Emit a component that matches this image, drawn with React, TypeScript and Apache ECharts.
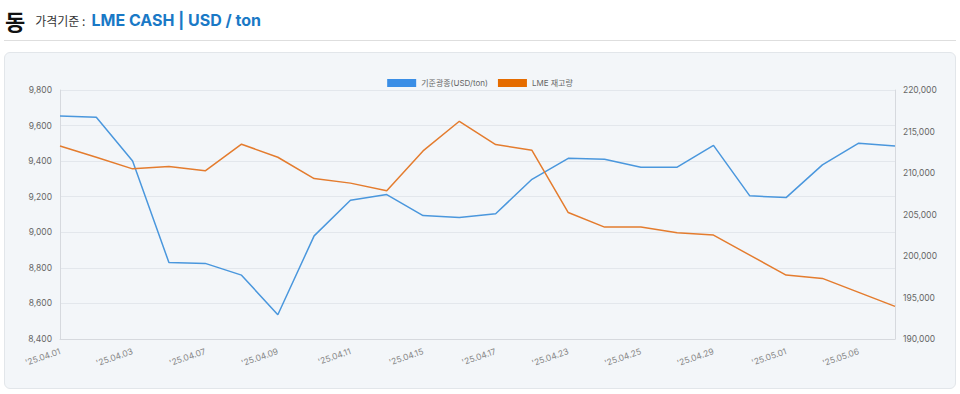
import React, { useEffect, useRef } from "react";
import * as echarts from "echarts";

const categories = [
  "'25.04.01", "'25.04.02", "'25.04.03", "'25.04.04", "'25.04.07", "'25.04.08",
  "'25.04.09", "'25.04.10", "'25.04.11", "'25.04.14", "'25.04.15", "'25.04.16",
  "'25.04.17", "'25.04.22", "'25.04.23", "'25.04.24", "'25.04.25", "'25.04.28",
  "'25.04.29", "'25.04.30", "'25.05.01", "'25.05.02", "'25.05.06", "'25.05.07",
];

const priceSeries = [
  9654, 9647, 9401, 8830, 8825, 8759, 8536, 8980, 9180, 9212, 9094, 9083,
  9104, 9298, 9416, 9411, 9366, 9366, 9489, 9205, 9195, 9379, 9501, 9485,
];

const stockSeries = [
  213260, 211900, 210500, 210780, 210260, 213470, 211900, 209330, 208780, 207850, 212660, 216230,
  213420, 212740, 205240, 203480, 203480, 202800, 202520, 200110, 197700, 197300, 195620, 193930,
];

const seriesNames = ["기준광종(USD/ton)", "LME 재고량"];

const FONT = "Inter, 'Noto Sans CJK KR', sans-serif";

function Chart() {
  const ref = useRef<HTMLDivElement>(null);
  useEffect(() => {
    if (!ref.current) return;
    const chart = echarts.init(ref.current, null, { renderer: "svg" });
    chart.setOption({
      animation: false,
      textStyle: { fontFamily: FONT },
      legend: {
        top: 21,
        left: "center",
        itemWidth: 29,
        itemHeight: 8,
        itemGap: 10,
        icon: "rect",
        textStyle: { fontSize: 8, color: "#666", fontFamily: FONT },
        data: seriesNames,
      },
      grid: { left: 55, right: 60, top: 37, bottom: 49 },
      xAxis: {
        type: "category",
        data: categories,
        boundaryGap: false,
        axisLine: { show: true, lineStyle: { color: "#d6d9de" } },
        axisTick: { show: false },
        axisLabel: {
          interval: 1,
          rotate: 19,
          margin: 12,
          fontSize: 8.5,
          color: "#888",
          fontFamily: FONT,
        },
        splitLine: { show: false },
      },
      yAxis: [
        {
          type: "value",
          min: 8400,
          max: 9800,
          interval: 200,
          axisLine: { show: true, lineStyle: { color: "#d6d9de" } },
          axisTick: { show: false },
          axisLabel: {
            fontSize: 8.5,
            color: "#666",
            margin: 8,
            fontFamily: FONT,
            formatter: (v: number) => v.toLocaleString("en-US"),
          },
          splitLine: { show: true, lineStyle: { color: "#e3e7ec" } },
        },
        {
          type: "value",
          min: 190000,
          max: 220000,
          interval: 5000,
          position: "right",
          axisLine: { show: true, lineStyle: { color: "#d6d9de" } },
          axisTick: { show: false },
          axisLabel: {
            fontSize: 8.5,
            color: "#666",
            margin: 8,
            fontFamily: FONT,
            formatter: (v: number) => v.toLocaleString("en-US"),
          },
          splitLine: { show: false },
        },
      ],
      series: [
        {
          name: seriesNames[0],
          type: "line",
          yAxisIndex: 0,
          data: priceSeries,
          showSymbol: false,
          symbol: "none",
          itemStyle: { color: "#3a8ee6" },
          lineStyle: { color: "#4a97dd", width: 1.5 },
        },
        {
          name: seriesNames[1],
          type: "line",
          yAxisIndex: 1,
          data: stockSeries,
          showSymbol: false,
          symbol: "none",
          itemStyle: { color: "#e56c00" },
          lineStyle: { color: "#e47c2e", width: 1.5 },
        },
      ],
    });
    return () => chart.dispose();
  }, []);
  return <div ref={ref} style={{ width: 950, height: 335 }} />;
}

export default function App() {
  useEffect(() => {
    document.body.style.margin = "0";
  }, []);
  return (
    <div
      style={{
        position: "absolute",
        left: 0,
        top: 0,
        width: 960,
        height: 394,
        background: "#fff",
        fontFamily: "'Noto Sans CJK KR', Inter, sans-serif",
      }}
    >
      <div style={{ position: "absolute", left: 5, top: 4, height: 32, display: "flex", alignItems: "center", whiteSpace: "nowrap" }}>
        <span style={{ fontSize: 22, fontWeight: 700, color: "#111" }}>동</span>
        <span style={{ fontSize: 12, color: "#333", marginLeft: 10 }}>가격기준 :</span>
        <span style={{ fontSize: 16, fontWeight: 700, color: "#1a79c6", marginLeft: 6, fontFamily: "Inter, 'Noto Sans CJK KR', sans-serif" }}>
          LME CASH | USD / ton
        </span>
      </div>
      <div style={{ position: "absolute", left: 4, top: 40, width: 952, height: 1, background: "#dedede" }} />
      <div
        style={{
          position: "absolute",
          left: 4,
          top: 52,
          width: 950,
          height: 335,
          border: "1px solid #e2e6ea",
          borderRadius: 6,
          background: "#f3f6f9",
        }}
      >
        <Chart />
      </div>
    </div>
  );
}
